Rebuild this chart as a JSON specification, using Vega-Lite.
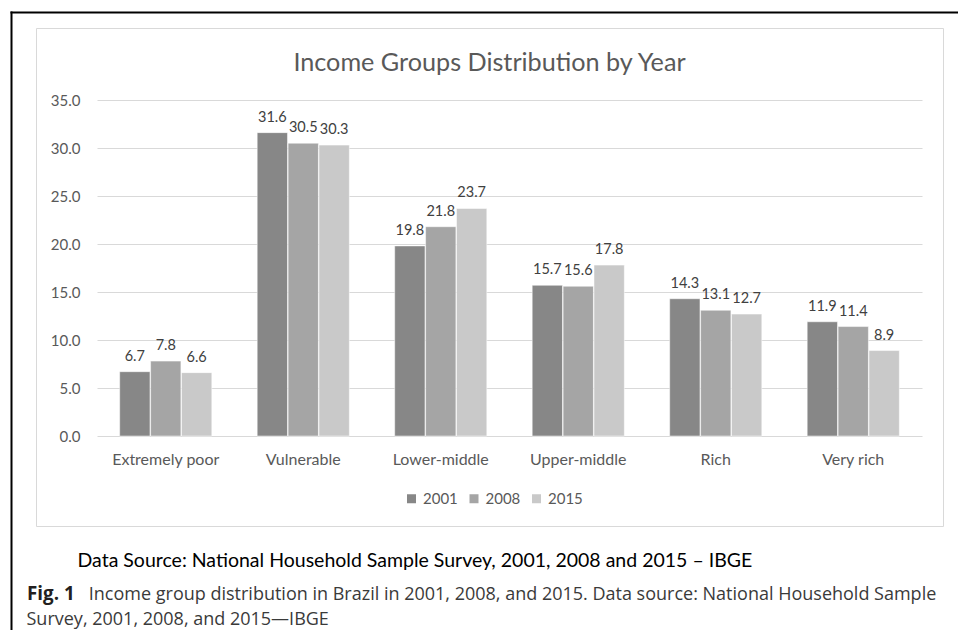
{
  "$schema": "https://vega.github.io/schema/vega-lite/v6.json",
  "width": 907,
  "height": 498,
  "autosize": {"type": "none"},
  "padding": {"left": 36, "top": 28, "right": 15, "bottom": 104},
  "background": "white",
  "config": {
    "view": {"stroke": "#d9d9d9", "strokeWidth": 1},
    "font": "Lato"
  },
  "title": {
    "text": "Income Groups Distribution by Year",
    "frame": "group",
    "anchor": "middle",
    "offset": -84,
    "baseline": "alphabetic",
    "font": "Lato",
    "fontSize": 25.2,
    "fontWeight": "normal",
    "color": "#595959"
  },
  "data": {
    "values": [
      {"group": "Extremely poor", "year": "2001", "value": 6.7},
      {"group": "Extremely poor", "year": "2008", "value": 7.8},
      {"group": "Extremely poor", "year": "2015", "value": 6.6},
      {"group": "Vulnerable", "year": "2001", "value": 31.6},
      {"group": "Vulnerable", "year": "2008", "value": 30.5},
      {"group": "Vulnerable", "year": "2015", "value": 30.3},
      {"group": "Lower-middle", "year": "2001", "value": 19.8},
      {"group": "Lower-middle", "year": "2008", "value": 21.8},
      {"group": "Lower-middle", "year": "2015", "value": 23.7},
      {"group": "Upper-middle", "year": "2001", "value": 15.7},
      {"group": "Upper-middle", "year": "2008", "value": 15.6},
      {"group": "Upper-middle", "year": "2015", "value": 17.8},
      {"group": "Rich", "year": "2001", "value": 14.3},
      {"group": "Rich", "year": "2008", "value": 13.1},
      {"group": "Rich", "year": "2015", "value": 12.7},
      {"group": "Very rich", "year": "2001", "value": 11.9},
      {"group": "Very rich", "year": "2008", "value": 11.4},
      {"group": "Very rich", "year": "2015", "value": 8.9}
    ]
  },
  "layer": [
    {
      "layer": [
        {
          "mark": {"type": "bar", "stroke": "white", "strokeWidth": 0.5},
          "encoding": {
            "x": {
              "field": "group",
              "type": "nominal",
              "sort": null,
              "scale": {"range": [61, 886], "paddingInner": 0.33, "paddingOuter": 0.165},
              "axis": {
                "orient": "bottom",
                "offset": -90,
                "labelAngle": 0,
                "labelPadding": 15,
                "labelFont": "Lato",
                "labelFontSize": 16,
                "labelColor": "#595959",
                "domain": false,
                "ticks": false,
                "grid": false,
                "title": "Data Source: National Household Sample Survey, 2001, 2008 and 2015 – IBGE",
                "titleFont": "Lato",
                "titleFontSize": 19.5,
                "titleFontWeight": "normal",
                "titleColor": "#000000",
                "titleAlign": "left",
                "titleBaseline": "alphabetic",
                "titleX": 41,
                "titleY": 130
              }
            },
            "xOffset": {"field": "year", "type": "nominal", "scale": {"paddingInner": 0.02}},
            "y": {
              "field": "value",
              "type": "quantitative",
              "scale": {"domain": [0, 35], "range": [408, 72], "nice": false},
              "axis": {
                "values": [0, 5, 10, 15, 20, 25, 30, 35],
                "format": ".1f",
                "offset": -61,
                "labelPadding": 17,
                "labelFont": "Lato",
                "labelFontSize": 15,
                "labelColor": "#595959",
                "domain": false,
                "ticks": false,
                "grid": true,
                "gridColor": "#d9d9d9",
                "gridWidth": 1,
                "title": "Fig. 1",
                "titleFont": "Open Sans",
                "titleFontSize": 18.8,
                "titleFontWeight": "bold",
                "titleColor": "#231f20",
                "titleAngle": 0,
                "titleAlign": "left",
                "titleBaseline": "alphabetic",
                "titleX": -70.5,
                "titleY": 571
              }
            },
            "color": {
              "field": "year",
              "type": "nominal",
              "scale": {"range": ["#878787", "#a5a5a5", "#c9c9c9"]},
              "legend": {
                "orient": "none",
                "legendX": 368,
                "legendY": 463,
                "direction": "horizontal",
                "title": null,
                "symbolType": "square",
                "symbolSize": 81,
                "symbolStrokeWidth": 0,
                "labelFont": "Lato",
                "labelFontSize": 15,
                "labelColor": "#595959",
                "labelOffset": 4,
                "columnPadding": 8.5
              }
            }
          }
        },
        {
          "mark": {"type": "text", "dy": -11, "baseline": "alphabetic", "font": "Lato", "fontSize": 14.5, "color": "#404040"},
          "encoding": {
            "x": {"field": "group", "type": "nominal", "sort": null},
            "xOffset": {"field": "year", "type": "nominal"},
            "y": {"field": "value", "type": "quantitative"},
            "text": {"field": "value", "type": "quantitative", "format": ".1f"}
          }
        }
      ]
    },
    {
      "mark": {"type": "point", "opacity": 0},
      "encoding": {
        "x": {
          "field": "value",
          "type": "quantitative",
          "scale": {"domain": [0, 35], "range": [-25, 922], "nice": false, "zero": false},
          "axis": {
            "orient": "top",
            "offset": 16,
            "labels": false,
            "ticks": false,
            "grid": false,
            "domain": true,
            "domainColor": "#000000",
            "domainWidth": 2,
            "domainCap": "square",
            "title": "Income group distribution in Brazil in 2001, 2008, and 2015. Data source: National Household Sample",
            "titleFont": "Open Sans",
            "titleFontSize": 18,
            "titleFontWeight": "normal",
            "titleColor": "#3a3a3a",
            "titleAngle": 0,
            "titleAlign": "left",
            "titleBaseline": "alphabetic",
            "titleX": 52.3,
            "titleY": 587
          }
        },
        "y": {
          "field": "value",
          "type": "quantitative",
          "scale": {"domain": [0, 35], "range": [-16, 640], "nice": false, "zero": false},
          "axis": {
            "orient": "right",
            "offset": -932,
            "labels": false,
            "ticks": false,
            "grid": false,
            "domain": true,
            "domainColor": "#000000",
            "domainWidth": 2,
            "domainCap": "square",
            "title": "Survey, 2001, 2008, and 2015—IBGE",
            "titleFont": "Open Sans",
            "titleFontSize": 18,
            "titleFontWeight": "normal",
            "titleColor": "#3a3a3a",
            "titleAngle": 0,
            "titleAlign": "left",
            "titleBaseline": "alphabetic",
            "titleX": 15,
            "titleY": 596
          }
        }
      }
    }
  ],
  "resolve": {
    "scale": {"x": "independent", "y": "independent", "xOffset": "independent"},
    "axis": {"x": "independent", "y": "independent"}
  }
}
